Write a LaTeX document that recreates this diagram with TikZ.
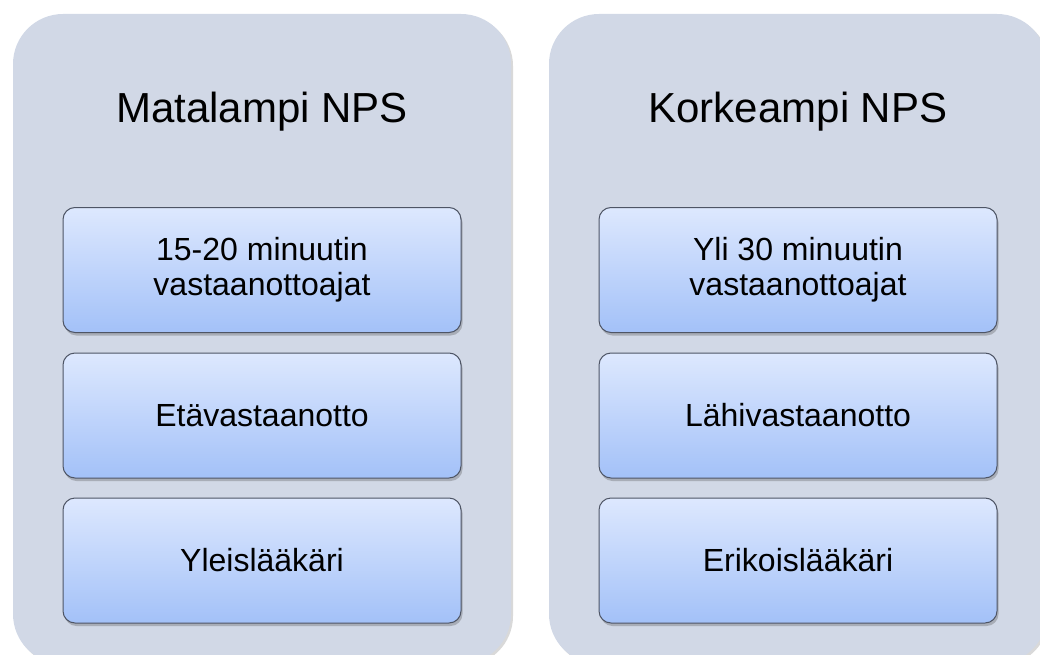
\documentclass[tikz,border=0pt]{standalone}
\usepackage{fontspec}
\setmainfont{Liberation Sans}
\usetikzlibrary{shadows}
\definecolor{panelfill}{HTML}{D1D8E6}
\definecolor{boxtop}{HTML}{DDE8FE}
\definecolor{boxbot}{HTML}{A3C1F8}
\definecolor{boxline}{HTML}{4E5565}
\tikzset{
  panel/.style={draw=none, fill=panelfill, rounded corners=50pt, minimum width=498pt, minimum height=650pt, inner sep=0pt,
    drop shadow={shadow xshift=2pt, shadow yshift=-2pt, opacity=0.25, fill=black!60}},
  title/.style={font=\fontsize{42}{50}\selectfont, inner sep=0pt, anchor=base},
  item/.style={draw=boxline, line width=1pt, top color=boxtop, bottom color=boxbot, rounded corners=12pt,
    minimum width=398pt, minimum height=125pt, inner sep=0pt, align=center,
    font=\fontsize{32}{35}\selectfont,
    drop shadow={shadow xshift=1.5pt, shadow yshift=-3pt, opacity=0.3, fill=black!70}}
}
\begin{document}
\begin{tikzpicture}[x=1pt,y=1pt]
\useasboundingbox (0,-655) rectangle (1040,0);
\clip (0,-655) rectangle (1040,0);
\node[panel] (pL) at (262,-339) {};
\node[panel] (pR) at (798,-339) {};
\node[title] (tL) at (262,-123) {Matalampi NPS};
\node[title] (tR) at (798,-123) {Korkeampi NPS};
\node[item] (l1) at (262,-270) {15-20 minuutin\\vastaanottoajat};
\node[item] (l2) at (262,-415.5) {Etävastaanotto};
\node[item] (l3) at (262,-560.5) {Yleislääkäri};
\node[item] (r1) at (798,-270) {Yli 30 minuutin\\vastaanottoajat};
\node[item] (r2) at (798,-415.5) {Lähivastaanotto};
\node[item] (r3) at (798,-560.5) {Erikoislääkäri};
\end{tikzpicture}
\end{document}
